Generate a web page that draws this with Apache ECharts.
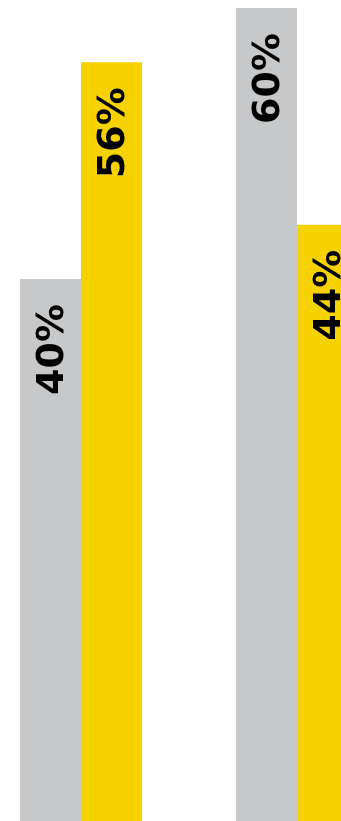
<!DOCTYPE html>
<html>
<head>
<meta charset="utf-8">
<style>
html,body{margin:0;padding:0;background:#fff;}
#chart{width:341px;height:821px;}
</style>
<script src="https://cdn.jsdelivr.net/npm/echarts@6/dist/echarts.min.js"></script>
</head>
<body>
<div id="chart"></div>
<script>
const categories = ['A', 'B'];
const grayValues = [40, 60];
const yellowValues = [56, 44];

const chart = echarts.init(document.getElementById('chart'), null, {renderer: 'canvas'});
const labelCfg = {
  show: true,
  position: 'insideTop',
  rotate: 90,
  align: 'right',
  verticalAlign: 'middle',
  distance: 22,
  offset: [-3, 3],
  formatter: '{c}%',
  color: '#000',
  fontFamily: 'DejaVu Sans',
  fontWeight: 'bold',
  fontSize: 38
};
chart.setOption({
  animation: false,
  grid: {left: 81, right: 44, top: 8, bottom: 0, containLabel: false},
  xAxis: {
    type: 'category', data: categories, boundaryGap: false,
    axisLine: {show: false}, axisTick: {show: false}, axisLabel: {show: false}, splitLine: {show: false}
  },
  yAxis: {
    type: 'value', min: 0, max: 60,
    axisLine: {show: false}, axisTick: {show: false}, axisLabel: {show: false}, splitLine: {show: false}
  },
  series: [
    {type: 'bar', data: grayValues, barWidth: 61, barGap: '0%', clip: false, itemStyle: {color: '#c7c8ca'}, label: labelCfg},
    {type: 'bar', data: yellowValues, barWidth: 61, barGap: '0%', clip: false, itemStyle: {color: '#f5d200'}, label: labelCfg}
  ]
});
</script>
</body>
</html>
